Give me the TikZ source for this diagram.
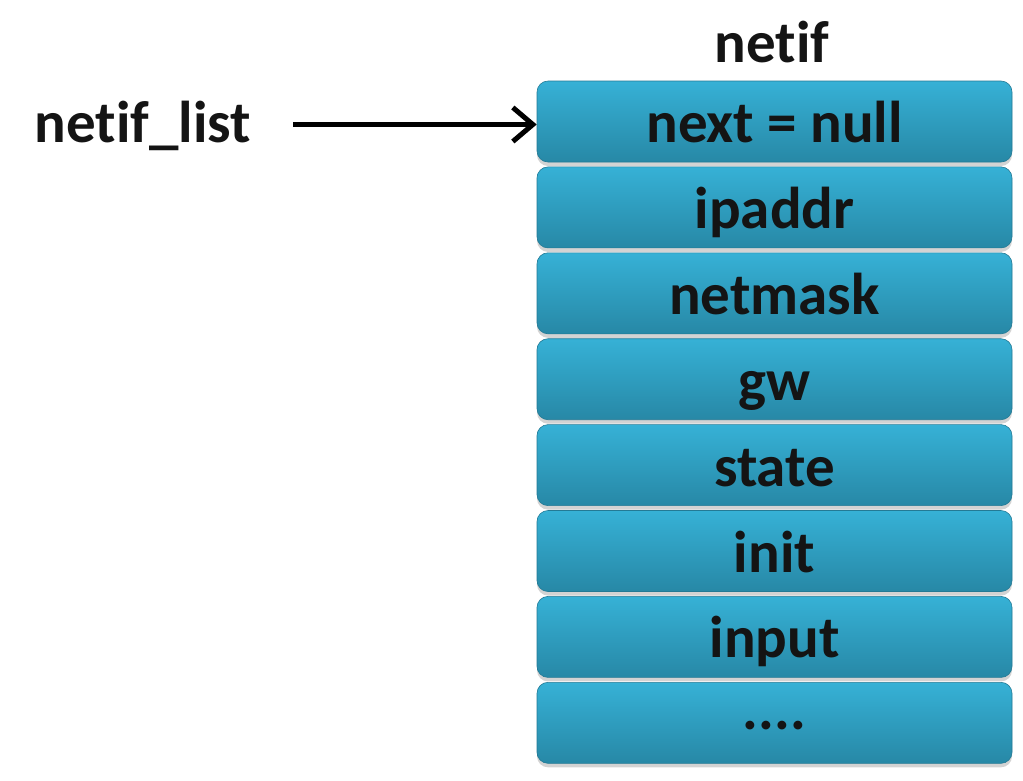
\documentclass[tikz,border=0pt]{standalone}
\usepackage{fontspec}
\setmainfont{Carlito}[Ligatures=NoCommon]
\usepackage{tikz}
\usetikzlibrary{calc, shapes, arrows.meta, shadows}

\definecolor{celltop}{RGB}{54,177,214}
\definecolor{cellbot}{RGB}{39,136,166}
\definecolor{ink}{RGB}{20,20,20}

\begin{document}
\begin{tikzpicture}[x=1pt,y=-1pt]
\tikzstyle{line} = [draw, line width=5pt, -{Straight Barb[length=20pt,width=34pt]}]
\tikzstyle{label}=[font=\fontsize{59}{63}\selectfont\bfseries, text=ink, inner sep=0pt, anchor=base]
\tikzstyle{vertex}=[rectangle, rounded corners=11pt, top color=celltop, bottom color=cellbot,
  draw=cellbot!90!black, line width=0.6pt, minimum width=475pt, minimum height=81pt, inner sep=0pt,
  text height=42pt, text depth=0pt,
  drop shadow={opacity=0.35, shadow xshift=0pt, shadow yshift=-4pt},
  font=\fontsize{59}{63}\selectfont\bfseries, text=ink]
\useasboundingbox (0,0) rectangle (1023,780);
\node[label] (T) at (772,62) {netif};
\node[label] (L) at (143,142) {netif\_list};
\node[vertex] (F_0) at (774.5,121.5) {next = null};
\node[vertex] (F_1) at (774.5,207.4) {ipaddr};
\node[vertex] (F_2) at (774.5,293.3) {netmask};
\node[vertex] (F_3) at (774.5,379.2) {gw};
\node[vertex] (F_4) at (774.5,465.1) {state};
\node[vertex] (F_5) at (774.5,551.0) {init};
\node[vertex] (F_6) at (774.5,636.9) {input};
\node[vertex] (F_7) at (774.5,722.8) {\raisebox{14pt}{....}};
\coordinate (P) at (293,124.5);
\path [line] (P) -- (P -| F_0.west);

\end{tikzpicture}
\end{document}
